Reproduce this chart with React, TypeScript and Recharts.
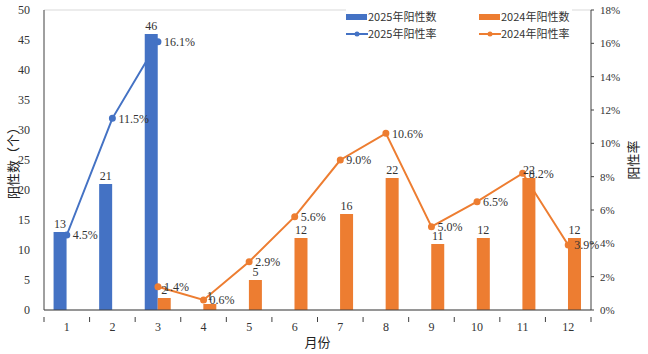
import React from 'react';
import { ComposedChart, Bar, Line, XAxis, YAxis, CartesianGrid, LabelList } from 'recharts';

const months = ['1', '2', '3', '4', '5', '6', '7', '8', '9', '10', '11', '12'];
const count2025: (number | null)[] = [13, 21, 46, null, null, null, null, null, null, null, null, null];
const count2024: (number | null)[] = [null, null, 2, 1, 5, 12, 16, 22, 11, 12, 22, 12];
const rate2025: (number | null)[] = [4.5, 11.5, 16.1, null, null, null, null, null, null, null, null, null];
const rate2024: (number | null)[] = [null, null, 1.4, 0.6, 2.9, 5.6, 9.0, 10.6, 5.0, 6.5, 8.2, 3.9];
const leftTicks = [0, 5, 10, 15, 20, 25, 30, 35, 40, 45, 50];
const rightTicks = [0, 2, 4, 6, 8, 10, 12, 14, 16, 18];

const data = months.map((m, i) => ({
  month: m,
  c2025: count2025[i],
  c2024: count2024[i],
  r2025: rate2025[i],
  r2024: rate2024[i],
}));

const BLUE = '#4472C4';
const ORANGE = '#ED7D31';
const FONT = '"Liberation Serif", "Times New Roman", "Noto Sans CJK SC", serif';
const CJK = '"Noto Sans CJK SC", "Liberation Serif", serif';

const W = 648;
const H = 354;
const LEFT_W = 44;
const RIGHT_W = 57;
const BAND = (W - LEFT_W - RIGHT_W) / months.length;

const XTick = (props: any) => {
  const { x, y, payload, index } = props;
  const half = BAND / 2;
  return (
    <g>
      <line x1={x - half} y1={y - 1} x2={x - half} y2={y + 4} stroke="#404040" strokeWidth={1} />
      {index === months.length - 1 && (
        <line x1={x + half} y1={y - 1} x2={x + half} y2={y + 4} stroke="#404040" strokeWidth={1} />
      )}
      <text x={x} y={y + 13} textAnchor="middle" fontSize={12} fill="#333" fontFamily={FONT}>
        {payload.value}
      </text>
    </g>
  );
};

const LeftLabel = (props: any) => {
  const { viewBox } = props;
  const cx = 12;
  const cy = viewBox.y + viewBox.height / 2;
  return (
    <text x={cx} y={cy} transform={`rotate(-90 ${cx} ${cy})`} textAnchor="middle" dominantBaseline="central" fontSize={13} fill="#222" fontFamily={CJK}>
      阳性数（个）
    </text>
  );
};

const RightLabel = (props: any) => {
  const { viewBox } = props;
  const cx = W - 16;
  const cy = viewBox.y + viewBox.height / 2;
  return (
    <text x={cx} y={cy} transform={`rotate(-90 ${cx} ${cy})`} textAnchor="middle" dominantBaseline="central" fontSize={13} fill="#222" fontFamily={CJK}>
      阳性率
    </text>
  );
};

const fmtPct = (v: any) => (v == null ? '' : `${Number(v).toFixed(1)}%`);

const LegendBox = () => {
  const item = (label: string, color: string, kind: 'bar' | 'line') => (
    <div style={{ display: 'flex', alignItems: 'center', height: 17 }}>
      {kind === 'bar' ? (
        <div style={{ width: 21, height: 6, background: color, marginRight: 1 }} />
      ) : (
        <svg width={22} height={8} style={{ marginRight: 0 }}>
          <line x1={0} y1={4} x2={22} y2={4} stroke={color} strokeWidth={2} />
          <circle cx={11} cy={4} r={2.5} fill={color} />
        </svg>
      )}
      <span style={{ fontSize: 11, color: '#333', fontFamily: CJK, lineHeight: '17px', whiteSpace: 'nowrap' }}>{label}</span>
    </div>
  );
  return (
    <div style={{ position: 'absolute', left: 346, top: 8, width: 226, background: '#fff', display: 'grid', gridTemplateColumns: '133px 93px', rowGap: 0 }}>
      {item('2025年阳性数', BLUE, 'bar')}
      {item('2024年阳性数', ORANGE, 'bar')}
      {item('2025年阳性率', BLUE, 'line')}
      {item('2024年阳性率', ORANGE, 'line')}
    </div>
  );
};

export default function App() {
  return (
    <div style={{ position: 'absolute', left: 0, top: 0, width: W, height: H, background: '#fff' }}>
      <ComposedChart
        width={W}
        height={H}
        data={data}
        margin={{ top: 10, right: 0, bottom: 0, left: 0 }}
        barCategoryGap="21%"
        barGap={0}
      >
        <CartesianGrid vertical={false} stroke="#d9d9d9" />
        <XAxis
          dataKey="month"
          height={44}
          tick={<XTick />}
          tickLine={false}
          axisLine={{ stroke: '#404040' }}
          interval={0}
          label={{ value: '月份', position: 'insideBottom', offset: 7, fontSize: 13, fill: '#222', fontFamily: CJK }}
        />
        <YAxis
          yAxisId="left"
          width={LEFT_W}
          domain={[0, 50]}
          ticks={leftTicks}
          interval={0}
          tickLine={false}
          axisLine={{ stroke: '#404040' }}
          tick={{ fontSize: 12, fill: '#333', fontFamily: FONT }}
          tickMargin={8}
          label={<LeftLabel />}
        />
        <YAxis
          yAxisId="right"
          orientation="right"
          width={RIGHT_W}
          domain={[0, 18]}
          ticks={rightTicks}
          interval={0}
          tickLine={{ stroke: '#404040' }}
          tickSize={3}
          axisLine={{ stroke: '#404040' }}
          tickFormatter={(v: number) => `${v}%`}
          tick={{ fontSize: 11, fill: '#333', fontFamily: FONT }}
          tickMargin={6}
          label={<RightLabel />}
        />
        <Bar yAxisId="left" dataKey="c2025" fill={BLUE} isAnimationActive={false}>
          <LabelList dataKey="c2025" position="top" fontSize={12} fill="#333" fontFamily={FONT} offset={4} />
        </Bar>
        <Bar yAxisId="left" dataKey="c2024" fill={ORANGE} isAnimationActive={false}>
          <LabelList dataKey="c2024" position="top" fontSize={12} fill="#333" fontFamily={FONT} offset={4} />
        </Bar>
        <Line
          yAxisId="right"
          dataKey="r2025"
          stroke={BLUE}
          strokeWidth={2}
          dot={{ r: 2.5, fill: BLUE, stroke: BLUE }}
          isAnimationActive={false}
          connectNulls={false}
        >
          <LabelList dataKey="r2025" position="right" formatter={fmtPct} fontSize={12} fill="#333" fontFamily={FONT} offset={6} />
        </Line>
        <Line
          yAxisId="right"
          dataKey="r2024"
          stroke={ORANGE}
          strokeWidth={2}
          dot={{ r: 2.5, fill: ORANGE, stroke: ORANGE }}
          isAnimationActive={false}
          connectNulls={false}
        >
          <LabelList dataKey="r2024" position="right" formatter={fmtPct} fontSize={12} fill="#333" fontFamily={FONT} offset={6} />
        </Line>
      </ComposedChart>
      <LegendBox />
    </div>
  );
}
